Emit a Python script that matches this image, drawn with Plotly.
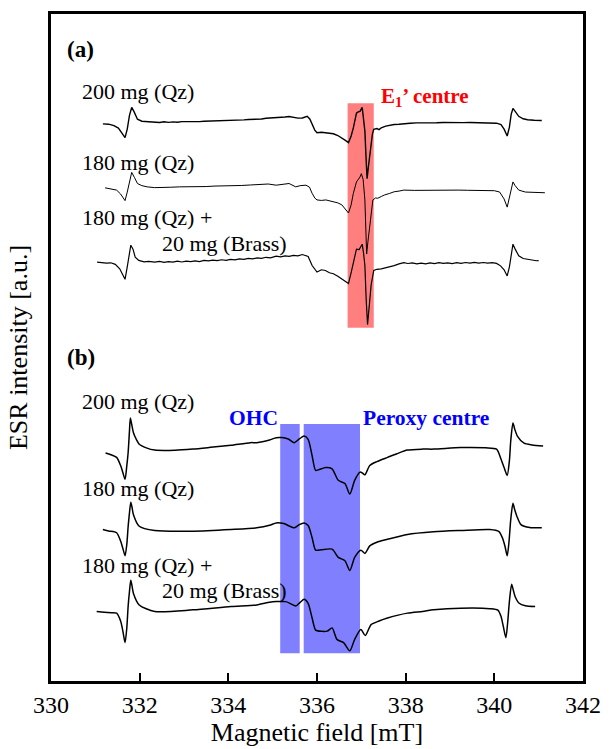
import plotly.graph_objects as go

# ---------------- data (magnetic field in mT, intensity in a.u. relative to baseline) -------------
a1_B = [331.17,331.30,331.42,331.52,331.60,331.67,331.72,331.77,331.82,331.87,331.95,332.05,332.20,332.34,
        332.45,332.55,332.65,332.75,332.85,332.95,333.05,333.15,333.25,333.35,333.45,333.55,333.65,333.75,
        333.85,333.95,334.05,334.15,334.25,334.35,334.45,334.55,334.65,334.75,334.85,334.93,335.00,335.08,
        335.18,335.28,335.37,335.47,335.57,335.67,335.73,335.78,335.84,335.89,335.95,336.00,336.10,336.19,
        336.28,336.37,336.47,336.56,336.64,336.71,336.77,336.82,336.89,336.93,336.97,337.02,337.05,337.08,
        337.11,337.13,337.16,337.21,337.25,337.28,337.35,337.40,337.45,337.55,337.65,337.74,337.85,337.96,
        338.10,338.25,338.40,338.55,338.70,338.85,339.00,339.15,339.30,339.45,339.60,339.75,339.90,340.05,
        340.15,340.22,340.29,340.34,340.38,340.42,340.47,340.55,340.65,340.75,340.90,341.00,341.07]
a1_I = [-1.7,-2.0,-3.5,-6,-11,-15.7,-7,7,15,11,3,1,0.5,0,
        -0.3,0.4,-0.2,0.3,0.0,0.6,0.5,0.3,0.9,0.6,1.0,1.1,1.3,1.2,
        1.7,1.6,2.0,2.1,2.3,2.4,2.8,2.9,3.2,3.3,4.0,4.1,4.6,5.0,
        4.5,5.3,5.8,4.8,4.2,4.3,5.5,6.0,3.0,-2.3,-8.0,-10.7,-10.2,-10.7,
        -11.5,-11.7,-13.5,-15.7,-18.5,-20.7,-14,-5.7,9.3,10.5,11,15,5,-9,
        -40,-57.3,-45,-25.7,-12,-7.3,-6.5,-7.5,-5.7,-4,-3,-2.3,-2.0,-1.3,
        -1.0,-0.7,-0.8,-0.4,-0.6,-0.3,-0.5,-0.2,-0.4,-0.3,-0.6,-0.4,-0.6,-1.0,
        -2.5,-7,-14,-5,8,14,11,6,3.5,2.5,2.0,1.5,1.7]

a2_B = [331.22,331.35,331.48,331.57,331.67,331.72,331.77,331.82,331.88,331.95,332.05,332.17,332.34,
        332.5,332.7,332.9,333.1,333.3,333.5,333.7,333.9,334.1,334.3,334.5,334.7,334.9,335.08,335.2,335.37,
        335.52,335.62,335.75,335.83,335.89,335.95,336.0,336.1,336.2,336.37,336.47,336.56,336.64,336.71,
        336.77,336.82,336.89,336.97,337.0,337.04,337.08,337.10,337.12,337.15,337.21,337.26,337.32,337.37,
        337.45,337.52,337.63,337.74,337.85,337.96,338.2,338.4,338.6,338.8,339.0,339.2,339.4,339.6,339.8,
        340.0,340.12,340.22,340.29,340.34,340.38,340.42,340.47,340.55,340.7,340.9,341.14]
a2_I = [-0.7,-1.5,-3,-7,-13.7,-5,7,15,10,3.7,1.5,0.3,-0.5,
        0.0,-0.1,0.3,0.2,0.6,0.6,1.1,1.1,1.6,1.7,2.2,2.5,3.2,2.0,3.0,3.7,
        0.3,1.5,2.0,0,-6.3,-11,-13,-13.5,-13,-14.7,-16,-18,-22,-26.3,
        -18,-6.3,5.3,10.3,13.7,8,-13,-40,-68,-55,-33,-13,-11,-11.3,
        -9.5,-8,-6.5,-4.7,-4.0,-3.0,-3.3,-3.1,-3.3,-3.0,-3.1,-3.0,-3.2,-3.1,-3.3,
        -3.6,-5,-12,-20.3,-10,0,5.3,1.5,-3.0,-5.0,-5.5,-5.7]

a3_B = [331.04,331.15,331.25,331.35,331.45,331.55,331.62,331.67,331.72,331.76,331.80,331.85,331.90,331.98,
        332.1,332.2,332.34,332.45,332.55,332.65,332.75,332.85,332.95,333.05,333.15,333.25,333.35,333.45,
        333.55,333.65,333.75,333.85,333.95,334.05,334.15,334.25,334.35,334.45,334.55,334.65,334.75,334.85,
        334.95,335.08,335.18,335.28,335.37,335.47,335.57,335.67,335.73,335.80,335.89,335.95,336.0,336.1,
        336.19,336.28,336.37,336.47,336.56,336.64,336.71,336.77,336.82,336.89,336.95,337.02,337.05,337.08,
        337.11,337.14,337.18,337.22,337.28,337.35,337.45,337.55,337.65,337.74,337.85,337.96,338.05,338.15,
        338.25,338.35,338.45,338.55,338.65,338.75,338.85,338.95,339.05,339.15,339.25,339.35,339.45,339.55,
        339.65,339.75,339.85,339.95,340.05,340.14,340.22,340.29,340.34,340.38,340.42,340.47,340.55,340.65,
        340.75,340.85,340.95,341.0]
a3_I = [-1.3,-1.8,-2.3,-1.9,-3.5,-8,-14,-18.7,-6,7,16,12,3.7,0.5,
        -1,-0.4,-1.3,-0.5,-1.4,-0.7,-1.2,-0.2,-1.1,-0.3,-0.8,0.1,-0.6,0.5,
        0.0,0.9,0.3,1.2,0.6,1.6,1.1,2.0,1.5,2.6,2.1,3.1,2.6,3.7,
        3.2,4.8,4.2,5.2,4.6,5.7,5.2,6.5,5.5,4.5,-4.7,-9.0,-11.3,-9.0,
        -9.7,-12,-13,-15.5,-18,-20.5,-23,-12,-1.3,12,11.5,17,8,-4.7,
        -40,-64.7,-45,-24.7,-9.7,-8.5,-8,-7.0,-5.5,-4.7,-3.0,-1.8,-2.6,-2.0,
        -3.0,-2.2,-2.9,-1.9,-2.7,-1.7,-2.5,-1.9,-2.8,-1.8,-2.4,-1.6,-2.3,-1.5,
        -2.3,-1.6,-2.2,-1.8,-2.5,-5,-9,-15.3,-6,6,17,12,5.3,2.5,
        1.5,0.8,0.2,0.3]

b1_B = [331.23,331.35,331.48,331.57,331.62,331.67,331.71,331.74,331.77,331.79,331.82,331.86,331.93,331.99,
        332.15,332.34,332.8,333.2,333.6,334.06,334.5,334.64,334.93,335.08,335.2,335.35,335.49,335.6,335.71,
        335.80,335.89,335.97,336.05,336.2,336.34,336.48,336.63,336.74,336.85,336.97,337.02,337.08,337.19,
        337.35,337.59,337.8,338.04,338.38,338.63,339.24,339.8,340.05,340.15,340.22,340.29,340.34,340.37,
        340.42,340.46,340.52,340.67,340.85,341.1]
b1_I = [-4.3,-6,-8.7,-17,-24,-31,-17,-3.7,18,31.3,25,16.3,9,4.7,
        1,-1.3,-1.5,-0.3,1.5,3.7,6.3,6.3,9,11.3,11.5,10,6.3,10,13,
        9.7,-7,-22,-21,-19,-20.3,-32,-35.3,-46,-32,-23.7,-24.5,-26.3,-17,
        -13,-8.7,-5,-1.3,-0.3,-0.3,1.3,1,-0.3,-10.3,-19,-27,-12,8,
        26.3,20,13,5.7,4,3]

b2_B = [331.17,331.30,331.48,331.57,331.62,331.67,331.71,331.74,331.77,331.80,331.83,331.86,331.99,
        332.34,333.2,334.06,334.64,334.93,335.08,335.25,335.49,335.6,335.71,335.80,335.89,335.97,336.1,
        336.34,336.48,336.63,336.74,336.85,336.99,337.08,337.19,337.35,337.59,338.04,338.63,339.24,339.9,
        340.1,340.18,340.24,340.29,340.33,340.37,340.42,340.46,340.51,340.6,340.8,341.07]
b2_I = [1,-0.5,-2.3,-10.7,-18,-25.7,-14,4,18,28.7,23,16,4.3,
        0,-0.7,1,2.7,5.3,7.7,7,2.7,6,7.7,5,-7.3,-20,-19.5,
        -19,-27.3,-30.7,-40.7,-27.3,-20,-23.3,-15.7,-12,-9,-4,-1.3,0,1,
        -1,-7.3,-16,-25.7,-12,11,27.7,21,14.3,6,3,2.7]

b3_B = [331.03,331.2,331.36,331.48,331.57,331.62,331.67,331.71,331.74,331.77,331.80,331.83,331.86,331.99,
        332.34,333.2,334.06,334.64,334.93,335.08,335.3,335.52,335.62,335.71,335.80,335.89,335.97,336.1,
        336.23,336.34,336.45,336.6,336.74,336.85,336.99,337.09,337.22,337.4,337.59,338.04,338.38,338.63,
        339.24,339.9,340.08,340.15,340.2,340.26,340.30,340.34,340.39,340.43,340.47,340.56,340.7,340.92]
b3_I = [-1.3,-2,-2.5,-3,-11,-21,-33,-18,4,19,30.3,24,17,5.3,
        -1.3,0.3,3.7,5.3,8,8.7,8.7,4.3,8,11,7,-8,-20.3,-21.5,
        -21.3,-18,-29.7,-33,-41.3,-29.7,-19.7,-25.7,-14.7,-11,-8,-3,-1.3,0.3,
        2,1.5,0,-6.3,-16,-28,-13,9,26.3,20,13.7,7,4.5,3.7]

series_B = [a1_B, a2_B, a3_B, b1_B, b2_B, b3_B]
series_I = [a1_I, a2_I, a3_I, b1_I, b2_I, b3_I]
# vertical stacking offsets (a.u.)
offsets = [-121, -187, -262, -453, -536, -617]
smooth = [False, False, False, True, True, True]
widths = [1.4, 1.0, 1.2, 1.5, 1.5, 1.5]

x_ticks = [330, 332, 334, 336, 338, 340, 342]

FONT = "Liberation Serif"

fig = go.Figure()
for B, I, off, sm, w in zip(series_B, series_I, offsets, smooth, widths):
    fig.add_trace(go.Scatter(
        x=B, y=[v + off for v in I], mode="lines",
        line=dict(color="black", width=w, shape="spline" if sm else "linear",
                  smoothing=0.7 if sm else None),
        showlegend=False, hoverinfo="skip"))

# highlighted regions
fig.add_shape(type="rect", x0=336.69, x1=337.28, y0=-330, y1=-101.7, xref="x", yref="y",
              fillcolor="#FF7F7F", line=dict(width=0), layer="below")
fig.add_shape(type="rect", x0=335.17, x1=335.61, y0=-660.7, y1=-427.7, xref="x", yref="y",
              fillcolor="#8080FF", line=dict(width=0), layer="below")
fig.add_shape(type="rect", x0=335.70, x1=336.97, y0=-660.7, y1=-427.7, xref="x", yref="y",
              fillcolor="#8080FF", line=dict(width=0), layer="below")

labels = [
    ("<b>(a)</b>", 330.31, -47, 23, "black"),
    ("200 mg (Qz)", 330.66, -90, 22, "black"),
    ("180 mg (Qz)", 330.66, -161.7, 22, "black"),
    ("180 mg (Qz) +", 330.66, -218, 22, "black"),
    ("20 mg (Brass)", 332.46, -244, 22, "black"),
    ("<b>E<sub>1</sub>’ centre</b>", 337.39, -95, 21, "#FF0000"),
    ("<b>(b)</b>", 330.31, -360, 23, "black"),
    ("200 mg (Qz)", 330.66, -405, 22, "black"),
    ("180 mg (Qz)", 330.66, -493, 22, "black"),
    ("180 mg (Qz) +", 330.66, -571.7, 22, "black"),
    ("20 mg (Brass)", 332.46, -596.7, 22, "black"),
    ("<b>OHC</b>", 333.97, -421.7, 21.5, "#0000FF"),
    ("<b>Peroxy centre</b>", 337.0, -421.7, 21.5, "#0000FF"),
]
for t, x, y, s, c in labels:
    fig.add_annotation(text=t, x=x, y=y, xref="x", yref="y", xanchor="left", yanchor="middle",
                       showarrow=False, font=dict(family=FONT, size=s, color=c))

fig.update_layout(
    width=612, height=749,
    margin=dict(l=51, r=20, t=11, b=60),
    paper_bgcolor="white", plot_bgcolor="white",
    font=dict(family=FONT, color="black"),
    xaxis=dict(range=[330, 342], tickvals=x_ticks, ticks="inside", ticklen=8, tickwidth=1.5,
               tickcolor="black", showline=True, linewidth=2.5, linecolor="black", mirror=True,
               showgrid=False, zeroline=False, tickfont=dict(size=24, family=FONT),
               title=dict(text="Magnetic field [mT]", font=dict(size=26, family=FONT), standoff=2)),
    yaxis=dict(range=[-689, -11], showticklabels=False, ticks="", showline=True, linewidth=2.5,
               linecolor="black", mirror=True, showgrid=False, zeroline=False,
               title=dict(text="ESR intensity [a.u.]", font=dict(size=26, family=FONT), standoff=14)),
)

fig.write_html("out.html")
